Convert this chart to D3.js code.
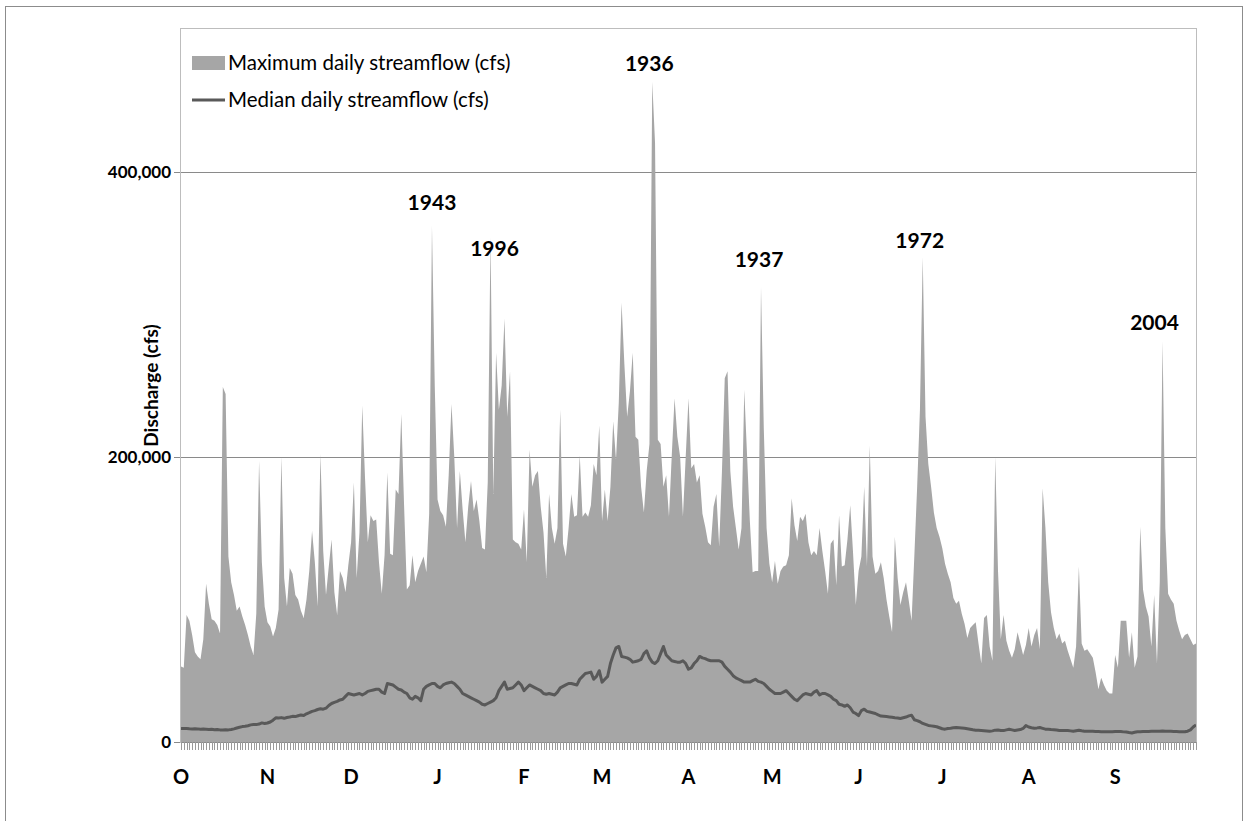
<!DOCTYPE html>
<html>
<head>
<meta charset="utf-8">
<script src="https://cdn.jsdelivr.net/npm/d3@7"></script>
<style>
  html, body { margin: 0; padding: 0; background: #fff; }
  svg { display: block; font-family: Lato, "Open Sans", sans-serif; }
</style>
</head>
<body>
<svg id="chart" width="1244" height="821"></svg>
<script>
// Daily streamflow statistics for the water year (Oct 1 - Sep 30), cfs.
const maxFlow = [
  53000, 52000, 89000, 85000, 75000, 63000, 60000, 58000, 72000, 111000,
  97000, 86000, 85000, 82000, 76000, 249000, 244000, 130000, 112000, 103000,
  92000, 95000, 88000, 82000, 75000, 67000, 61000, 90000, 197000, 126000,
  95000, 84000, 81000, 74000, 80000, 93000, 200000, 115000, 95000, 122000,
  118000, 103000, 100000, 92000, 87000, 100000, 120000, 148000, 126000, 95000,
  202000, 134000, 103000, 123000, 142000, 105000, 89000, 120000, 115000, 105000,
  124000, 140000, 182000, 115000, 147000, 236000, 185000, 140000, 159000, 155000,
  156000, 126000, 104000, 131000, 189000, 132000, 131000, 177000, 174000, 230000,
  166000, 107000, 110000, 131000, 112000, 120000, 125000, 130000, 119000, 160000,
  362000, 250000, 170000, 162000, 159000, 151000, 187000, 237000, 200000, 150000,
  190000, 163000, 140000, 165000, 183000, 162000, 170000, 155000, 136000, 135000,
  182000, 354000, 174000, 273000, 233000, 250000, 297000, 228000, 260000, 142000,
  140000, 139000, 135000, 163000, 126000, 205000, 179000, 187000, 190000, 165000,
  147000, 115000, 174000, 150000, 139000, 150000, 233000, 139000, 130000, 150000,
  174000, 158000, 159000, 201000, 158000, 161000, 158000, 166000, 195000, 187000,
  222000, 155000, 177000, 155000, 179000, 225000, 198000, 238000, 308000, 265000,
  228000, 246000, 273000, 214000, 212000, 179000, 161000, 190000, 209000, 463000,
  420000, 212000, 209000, 179000, 187000, 158000, 201000, 241000, 214000, 200000,
  158000, 200000, 241000, 192000, 195000, 182000, 187000, 160000, 151000, 140000,
  138000, 165000, 174000, 137000, 190000, 255000, 260000, 190000, 165000, 150000,
  135000, 150000, 247000, 201000, 155000, 119000, 120000, 120000, 319000, 220000,
  150000, 125000, 112000, 127000, 111000, 120000, 123000, 124000, 131000, 171000,
  152000, 141000, 158000, 155000, 160000, 140000, 131000, 134000, 131000, 150000,
  134000, 120000, 104000, 139000, 142000, 110000, 159000, 123000, 124000, 142000,
  166000, 133000, 96000, 120000, 130000, 179000, 123000, 208000, 130000, 118000,
  120000, 126000, 115000, 100000, 88000, 77000, 144000, 115000, 96000, 105000,
  112000, 99000, 85000, 131000, 179000, 233000, 340000, 228000, 195000, 179000,
  161000, 150000, 144000, 136000, 125000, 118000, 112000, 101000, 97000, 99000,
  90000, 83000, 73000, 80000, 82000, 84000, 69000, 55000, 87000, 89000,
  67000, 57000, 200000, 120000, 72000, 89000, 71000, 64000, 59000, 65000,
  77000, 69000, 61000, 68000, 80000, 67000, 75000, 80000, 65000, 178000,
  150000, 112000, 91000, 80000, 72000, 76000, 69000, 71000, 64000, 58000,
  52000, 67000, 123000, 69000, 64000, 65000, 62000, 59000, 49000, 37000,
  45000, 40000, 36000, 34000, 34000, 61000, 52000, 85000, 85000, 85000,
  59000, 77000, 52000, 60000, 151000, 107000, 95000, 88000, 67000, 103000,
  55000, 112000, 281000, 150000, 104000, 100000, 97000, 85000, 78000, 72000,
  75000, 76000, 72000, 68000, 69000
];

const medianFlow = [
  9500, 9400, 9500, 9300, 9200, 9300, 9200, 9000, 9100, 9000,
  8800, 8900, 8600, 8800, 8500, 8400, 8600, 8500, 8800, 9200,
  9800, 10300, 10800, 11000, 11400, 12000, 12300, 12200, 12600, 13400,
  13000, 13300, 14000, 15300, 17000, 16800, 17100, 16600, 17200, 17500,
  18000, 17800, 18400, 19000, 18600, 19800, 20600, 21500, 22000, 22800,
  23300, 23000, 23700, 25600, 27000, 27800, 28500, 29500, 30000, 32000,
  34000, 33500, 33000, 33500, 34000, 33000, 34000, 35500, 36000, 36500,
  37000, 37000, 35000, 34000, 41000, 40500, 40000, 38500, 37000, 36500,
  35000, 34000, 31000, 30000, 32000, 31000, 29000, 37000, 39000, 40000,
  41000, 41000, 39000, 38000, 40000, 41000, 41500, 42000, 41000, 39000,
  37000, 34000, 33000, 32000, 31000, 30000, 29000, 28000, 26500, 26000,
  27000, 28000, 29000, 31000, 36000, 39000, 42000, 37000, 37500, 38000,
  40000, 42000, 40000, 36000, 38000, 40000, 39000, 38000, 37000, 36000,
  34000, 33500, 34000, 33500, 33000, 35000, 38000, 39000, 40000, 41000,
  41000, 40500, 40000, 44000, 46000, 48000, 48500, 49000, 44000, 46000,
  50000, 42000, 44000, 46000, 55000, 61000, 66000, 67000, 60000, 59500,
  59000, 58000, 56000, 56500, 57000, 58000, 62000, 64000, 59000, 56000,
  55000, 57000, 62000, 67000, 61000, 59000, 57000, 56500, 56000, 56000,
  57000, 55000, 51000, 52000, 55000, 57000, 60000, 59000, 58500, 57500,
  57000, 57000, 57000, 57000, 56000, 53000, 51000, 49000, 46500, 45000,
  44000, 43000, 42000, 42000, 42000, 43000, 44000, 42500, 42000, 41000,
  39000, 37000, 35500, 34000, 34000, 34000, 35000, 36000, 34000, 32000,
  30000, 29000, 31000, 33000, 34000, 33500, 33000, 35000, 36000, 33000,
  34000, 34000, 33000, 32000, 30000, 29000, 26500, 26000, 25000, 26000,
  24000, 21000, 20000, 18500, 22000, 23000, 21500, 21000, 20500, 20000,
  19000, 18200, 18000, 17800, 17600, 17300, 17000, 16800, 16500, 17000,
  17500, 18300, 18800, 15600, 15000, 14200, 13000, 12300, 11600, 11300,
  11000, 10700, 10000, 9300, 9000, 9500, 9700, 10000, 10200, 10000,
  9800, 9600, 9300, 9000, 8600, 8300, 8200, 8100, 7900, 7700,
  7500, 7800, 8300, 8400, 8100, 8000, 8500, 8900, 8500, 8100,
  8400, 8700, 9500, 11500, 10500, 10000, 9700, 9900, 10200, 9600,
  9000, 8900, 8700, 8600, 8400, 8100, 8100, 8000, 8100, 7800,
  7500, 7900, 8300, 7900, 7600, 7500, 7500, 7500, 7400, 7300,
  7200, 7200, 7200, 7200, 7200, 7300, 7400, 7400, 7100, 7000,
  6600, 6300, 6800, 7200, 7200, 7300, 7300, 7400, 7500, 7500,
  7500, 7500, 7700, 7600, 7500, 7500, 7400, 7300, 7200, 7200,
  7200, 7600, 8500, 10500, 12000
];

// Month initials and the day of the water year each month begins on
const monthLabels = ["O", "N", "D", "J", "F", "M", "A", "M", "J", "J", "A", "S"];
const monthStartDay = [0, 31, 61, 92, 123, 151, 182, 212, 243, 273, 304, 335];

// Value axis
const yTickValues = [0, 200000, 400000];
const yMax = 500000;

// Year of record for the largest peaks, and the day each occurred on
const peakYears = [1943, 1996, 1936, 1937, 1972, 2004];
const peakDays = [90, 111, 169, 208, 266, 352];

// ---- layout ----
const plot = { left: 181, right: 1196, top: 29, bottom: 742 };
// label placement relative to its peak (pixels): horizontal shift, baseline shift
const peakLabelShift = {
  1943: [0, -16], 1996: [4, 19], 1936: [-3, -11],
  1937: [-2, -20], 1972: [-3, -9], 2004: [-8, -11]
};

const svg = d3.select("#chart");
const days = d3.range(maxFlow.length);

const x = d3.scaleLinear().domain([0, days.length - 1]).range([plot.left, plot.right]);
const y = d3.scaleLinear().domain([0, yMax]).range([plot.bottom, plot.top]);

// outer chart frame
svg.append("rect")
  .attr("x", 5.5).attr("y", 6.5).attr("width", 1237).attr("height", 830)
  .attr("fill", "#fff").attr("stroke", "#8c8c8c").attr("stroke-width", 1);

// horizontal gridlines, with short outside tick marks on the value axis
svg.append("g")
  .selectAll("line")
  .data(yTickValues.filter(v => v > 0))
  .join("line")
  .attr("x1", plot.left).attr("x2", plot.right)
  .attr("y1", d => Math.round(y(d)) + 0.5).attr("y2", d => Math.round(y(d)) + 0.5)
  .attr("stroke", "#8a8a8a").attr("stroke-width", 1);
svg.append("g")
  .selectAll("line")
  .data(yTickValues)
  .join("line")
  .attr("x1", plot.left - 7).attr("x2", plot.left)
  .attr("y1", d => Math.round(y(d)) + 0.5).attr("y2", d => Math.round(y(d)) + 0.5)
  .attr("stroke", "#8a8a8a").attr("stroke-width", 1);

// maximum daily streamflow area
const area = d3.area()
  .x((d, i) => x(i))
  .y0(y(0))
  .y1(d => y(d));
svg.append("path")
  .datum(maxFlow)
  .attr("d", area)
  .attr("fill", "#a6a6a6");

// median daily streamflow line
const line = d3.line()
  .x((d, i) => x(i))
  .y(d => y(d));
svg.append("path")
  .datum(medianFlow)
  .attr("d", line)
  .attr("fill", "none")
  .attr("stroke", "#595959")
  .attr("stroke-width", 3)
  .attr("stroke-linejoin", "round");

// plot area border
svg.append("rect")
  .attr("x", plot.left - 0.5).attr("y", plot.top - 0.5)
  .attr("width", plot.right - plot.left + 1).attr("height", plot.bottom - plot.top + 1)
  .attr("fill", "none").attr("stroke", "#bdbdbd").attr("stroke-width", 1);

// category axis: a tick for every day, month initials at month starts
const xAxis = svg.append("g");
xAxis.append("line")
  .attr("x1", plot.left).attr("x2", plot.right)
  .attr("y1", plot.bottom + 0.5).attr("y2", plot.bottom + 0.5)
  .attr("stroke", "#8a8a8a");
xAxis.append("g")
  .selectAll("line")
  .data(days)
  .join("line")
  .attr("x1", d => Math.round(x(d)) + 0.5).attr("x2", d => Math.round(x(d)) + 0.5)
  .attr("y1", plot.bottom).attr("y2", plot.bottom + 8)
  .attr("stroke", "#9a9a9a").attr("stroke-width", 1);
xAxis.append("g")
  .selectAll("text")
  .data(monthLabels)
  .join("text")
  .attr("x", (d, i) => x(monthStartDay[i]))
  .attr("y", 784)
  .attr("text-anchor", "middle")
  .attr("font-size", 20)
  .attr("font-weight", "bold")
  .attr("fill", "#000")
  .text(d => d);

// value axis labels
svg.append("g")
  .selectAll("text")
  .data(yTickValues)
  .join("text")
  .attr("x", 171)
  .attr("y", d => y(d) + 6)
  .attr("text-anchor", "end")
  .attr("font-size", 17)
  .attr("font-weight", "bold")
  .attr("fill", "#000")
  .text(d => d3.format(",")(d));

// value axis title
svg.append("text")
  .attr("transform", `translate(158,${(plot.top + plot.bottom) / 2}) rotate(-90)`)
  .attr("text-anchor", "middle")
  .attr("font-size", 19)
  .attr("font-weight", "bold")
  .attr("fill", "#000")
  .text("Discharge (cfs)");

// peak year annotations
svg.append("g")
  .selectAll("text")
  .data(peakYears)
  .join("text")
  .attr("x", (d, i) => x(peakDays[i]) + peakLabelShift[d][0])
  .attr("y", (d, i) => y(maxFlow[peakDays[i]]) + peakLabelShift[d][1])
  .attr("text-anchor", "middle")
  .attr("font-size", 21)
  .attr("font-weight", "bold")
  .attr("fill", "#000")
  .text(d => d);

// legend
const legend = svg.append("g");
legend.append("rect")
  .attr("x", 192).attr("y", 56).attr("width", 33).attr("height", 14)
  .attr("fill", "#a6a6a6");
legend.append("line")
  .attr("x1", 192).attr("x2", 225).attr("y1", 100).attr("y2", 100)
  .attr("stroke", "#595959").attr("stroke-width", 3);
legend.append("text")
  .attr("x", 228).attr("y", 70)
  .attr("font-size", 20.5).attr("fill", "#000")
  .text("Maximum daily streamflow (cfs)");
legend.append("text")
  .attr("x", 228).attr("y", 107)
  .attr("font-size", 20.5).attr("fill", "#000")
  .text("Median daily streamflow (cfs)");
</script>
</body>
</html>
